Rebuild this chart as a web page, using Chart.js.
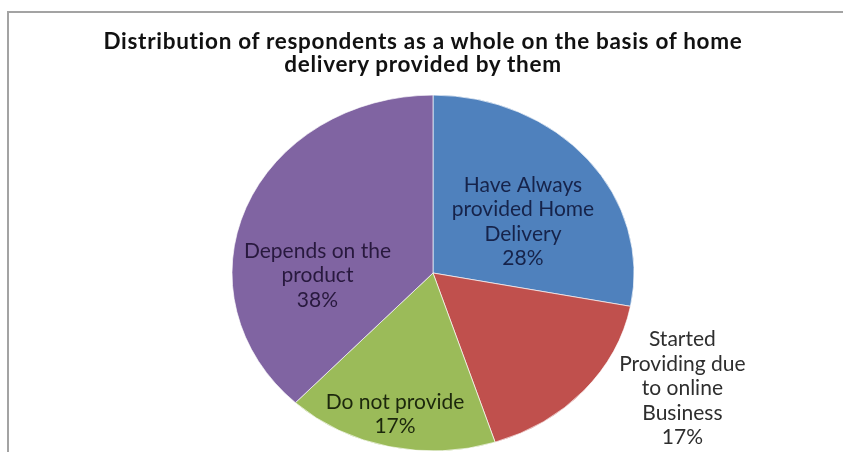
<!DOCTYPE html>
<html><head><meta charset="utf-8">
<script src="https://cdn.jsdelivr.net/npm/chart.js@4.4.1/dist/chart.umd.min.js"></script>
<style>
html,body{margin:0;padding:0;background:#fff;overflow:hidden;}
#wrap{position:relative;width:843px;height:452px;overflow:hidden;background:#fff;}
#title{position:absolute;left:0;width:846px;top:29px;text-align:center;font-family:Lato,sans-serif;font-weight:bold;font-size:22.5px;letter-spacing:0.7px;line-height:23px;color:#111;}
canvas{position:absolute;left:0;top:0;}
</style></head><body>
<div id="wrap">
<canvas id="c" width="843" height="452"></canvas>
<div id="title">Distribution of respondents as a whole on the basis of home<br>delivery provided by them</div>
</div>
<script>
const categories = ['Have Always provided Home Delivery', 'Started Providing due to online Business', 'Do not provide', 'Depends on the product'];
const shares = [28, 17, 17, 38];
const labelLines = [['Have Always', 'provided Home', 'Delivery'], ['Started', 'Providing due', 'to online', 'Business'], ['Do not provide'], ['Depends on the', 'product']];

const sliceColors = ['#4F81BD', '#C0504D', '#9BBB59', '#8064A2'];
const labelColors = ['#16234a', '#2e2e2e', '#1c270c', '#28193e'];
const placement = [{da: 6.7, rf: 0.533}, {da: -13.8, rf: 1.40}, {da: 0.8, rf: 0.815}, {da: -23, rf: 0.575}];
const KY = 0.885;
const LINE_H = 24.5;

const frame = {
  id: 'frame',
  beforeDraw(chart) {
    const ctx = chart.ctx;
    ctx.save();
    ctx.strokeStyle = '#a3a3a3';
    ctx.lineWidth = 2;
    ctx.beginPath();
    ctx.moveTo(8, chart.height + 5);
    ctx.lineTo(8, 12);
    ctx.lineTo(chart.width + 5, 12);
    ctx.stroke();
    ctx.restore();
  }
};

const ellipse = {
  id: 'ellipse',
  beforeDatasetsDraw(chart) {
    const a = chart.getDatasetMeta(0).data[0];
    const ctx = chart.ctx;
    ctx.save();
    ctx.translate(a.x, a.y);
    ctx.scale(1, KY);
    ctx.translate(-a.x, -a.y);
  },
  afterDatasetsDraw(chart) {
    const ctx = chart.ctx;
    ctx.restore();
    const meta = chart.getDatasetMeta(0);
    ctx.save();
    ctx.font = '21px Lato, sans-serif';
    ctx.textAlign = 'center';
    ctx.textBaseline = 'middle';
    meta.data.forEach((arc, i) => {
      const p = arc.getProps(['x', 'y', 'startAngle', 'endAngle', 'outerRadius'], true);
      const mid = (p.startAngle + p.endAngle) / 2 + placement[i].da * Math.PI / 180;
      const r = p.outerRadius * placement[i].rf;
      const cx = p.x + Math.cos(mid) * r;
      const cy = p.y + Math.sin(mid) * r * KY;
      const lines = labelLines[i].concat([shares[i] + '%']);
      const y0 = cy - (lines.length - 1) * LINE_H / 2;
      ctx.fillStyle = labelColors[i];
      lines.forEach((t, k) => ctx.fillText(t, cx, y0 + k * LINE_H));
    });
    ctx.restore();
  }
};

function build() {
  new Chart(document.getElementById('c'), {
    type: 'pie',
    data: {
      labels: categories,
      datasets: [{
        data: shares,
        backgroundColor: sliceColors,
        borderColor: 'rgba(255,255,255,0.7)',
        borderWidth: 1,
        radius: 201
      }]
    },
    options: {
      responsive: false,
      animation: false,
      layout: {padding: {left: 23, right: 0, top: 94, bottom: 0}},
      plugins: {legend: {display: false}, tooltip: {enabled: false}, title: {display: false}}
    },
    plugins: [frame, ellipse]
  });
}
if (document.fonts && document.fonts.load) {
  Promise.all([document.fonts.load('21px Lato'), document.fonts.load('bold 21px Lato')]).then(build, build);
} else { build(); }
</script>
</body></html>
